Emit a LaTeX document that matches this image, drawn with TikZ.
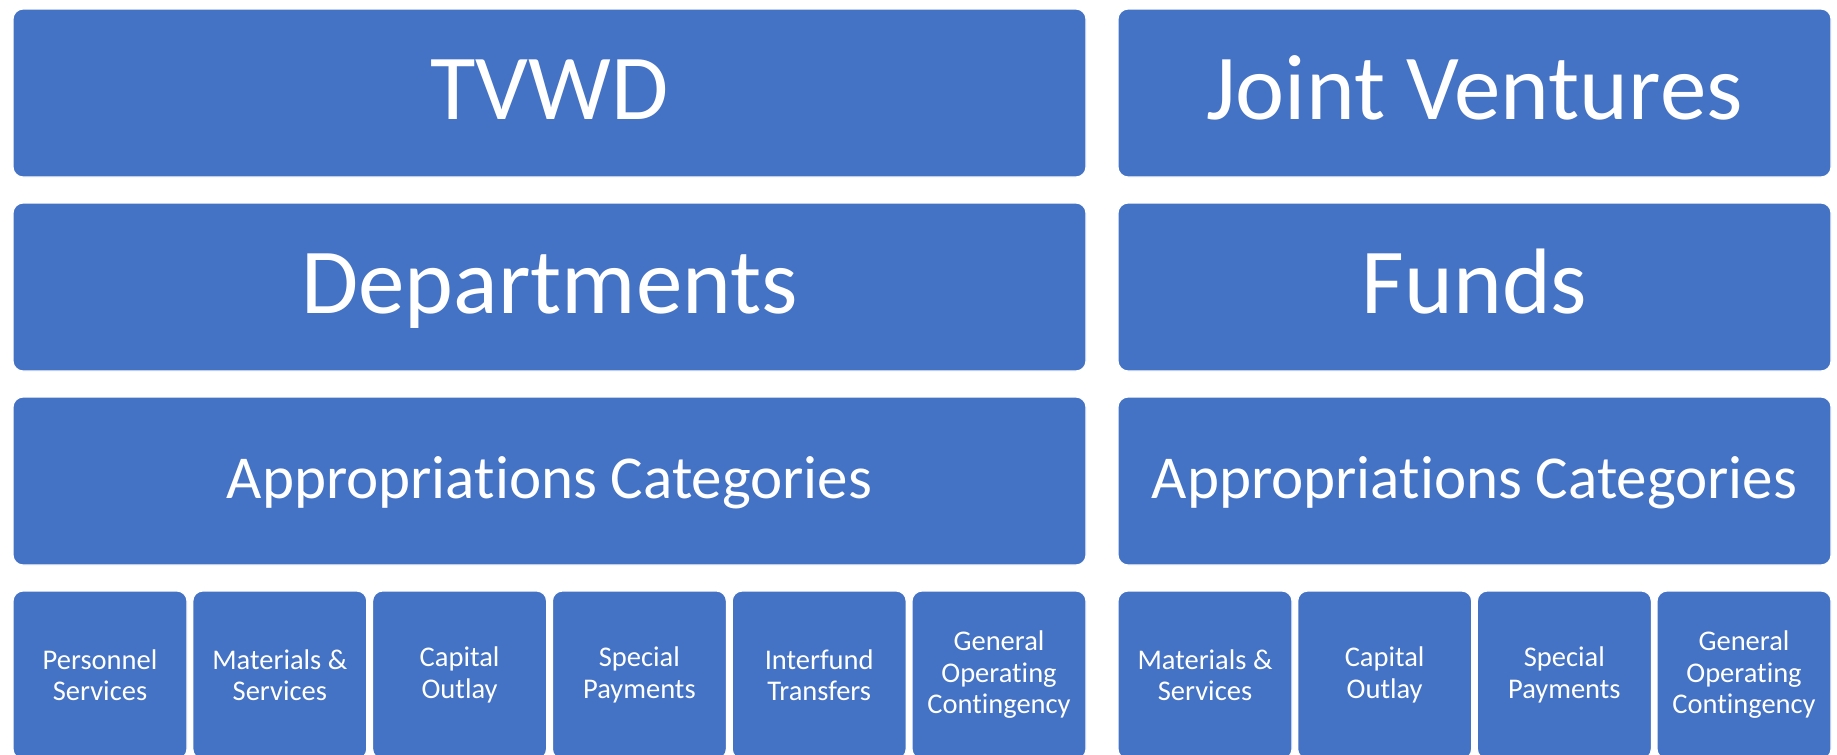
\documentclass[tikz,border=0pt]{standalone}
\usepackage{fontspec}
\setmainfont{Carlito}[Ligatures=NoCommon]
\usepackage{tikz}
\usetikzlibrary{positioning}
\definecolor{boxblue}{HTML}{4472C4}

\begin{document}
\begin{tikzpicture}[x=1pt,y=-1pt,node distance=26pt,
    box/.style={rectangle,rounded corners=10pt,fill=boxblue,draw=white,line width=1.2pt,
      text=white,inner sep=0pt,outer sep=0pt,minimum height=168pt},
    big node/.style={box,font=\fontsize{93}{100}\selectfont,text height=70pt,text depth=17pt},
    cat node/.style={box,font=\fontsize{61}{66}\selectfont,text height=46pt,text depth=12pt},
    item node/.style={box,minimum width=174pt,align=center,font=\fontsize{28.5}{31.5}\selectfont}]
  \useasboundingbox (0,0) rectangle (1837,755);
  \clip (0,0) rectangle (1837,755);

  % Left column
  \node[big node,minimum width=1073pt] (tvwd) at (549.5,93) {TVWD};
  \node[big node,minimum width=1073pt] (dept) [below=of tvwd] {Departments};
  \node[cat node,minimum width=1073pt] (catl) [below=of dept] {Appropriations Categories};

  % Right column
  \node[big node,minimum width=713pt] (jv) at (1474.5,93) {Joint Ventures};
  \node[big node,minimum width=713pt] (funds) [below=of jv] {Funds};
  \node[cat node,minimum width=713pt] (catr) [below=of funds] {Appropriations Categories};

  % Categories under TVWD
  \node[item node] (pers) [below right=26pt and 0pt of catl.south west] {Personnel\\Services};
  \node[item node] (matl) [right=5.8pt of pers] {Materials \&\\Services};
  \node[item node] (capl) [right=5.8pt of matl] {Capital\\Outlay};
  \node[item node] (spel) [right=5.8pt of capl] {Special\\Payments};
  \node[item node] (intl) [right=5.8pt of spel] {Interfund\\Transfers};
  \node[item node] (genl) [right=5.8pt of intl] {General\\Operating\\Contingency};

  % Categories under Joint Ventures
  \node[item node] (matr) [below right=26pt and 0pt of catr.south west] {Materials \&\\Services};
  \node[item node] (capr) [right=5.67pt of matr] {Capital\\Outlay};
  \node[item node] (sper) [right=5.67pt of capr] {Special\\Payments};
  \node[item node] (genr) [right=5.67pt of sper] {General\\Operating\\Contingency};
\end{tikzpicture}
\end{document}
